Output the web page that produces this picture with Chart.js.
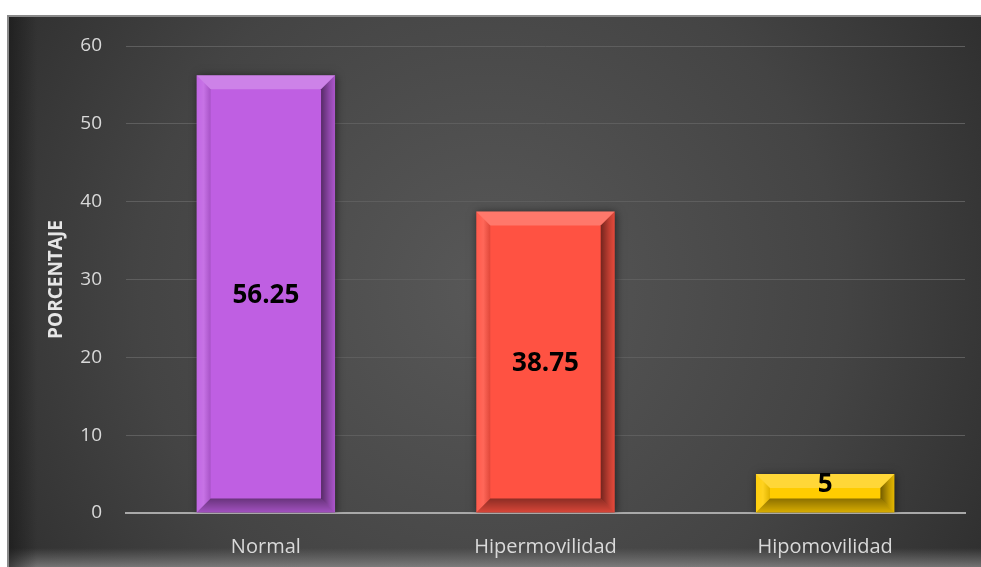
<!DOCTYPE html>
<html>
<head>
<meta charset="utf-8">
<script src="https://cdn.jsdelivr.net/npm/chart.js@4/dist/chart.umd.min.js"></script>
<style>
  html, body { margin: 0; padding: 0; background: #ffffff; }
  #wrap { width: 981px; height: 567px; position: relative; }
</style>
</head>
<body>
<div id="wrap"><canvas id="c" width="981" height="567"></canvas></div>
<script>
// Movilidad articular: porcentaje por categoría
const categories = ['Normal', 'Hipermovilidad', 'Hipomovilidad'];
const porcentajes = [56.25, 38.75, 5];
const barColors = ['#bf5fe2', '#ff5242', '#ffcc00'];
const yTicks = [0, 10, 20, 30, 40, 50, 60];
const axisTitle = 'PORCENTAJE';

// Dark panel with a soft radial highlight
const panelBackground = {
  id: 'panelBackground',
  beforeDraw(chart) {
    const ctx = chart.ctx;
    const W = chart.width, H = chart.height;
    ctx.save();
    ctx.fillStyle = '#ffffff';
    ctx.fillRect(0, 0, W, H);
    const px = 7, py = 15;
    const g = ctx.createRadialGradient(490, 290, 20, 490, 290, 620);
    g.addColorStop(0, '#575757');
    g.addColorStop(0.55, '#444444');
    g.addColorStop(1, '#2a2a2a');
    ctx.fillStyle = g;
    ctx.fillRect(px, py, W - px, H - py);
    // lighter band along the bottom edge
    const gb = ctx.createLinearGradient(0, 548, 0, H);
    gb.addColorStop(0, 'rgba(140,140,140,0)');
    gb.addColorStop(1, 'rgba(150,150,150,0.65)');
    ctx.fillStyle = gb;
    ctx.fillRect(px, 548, W - px, H - 548);
    // darker band down the left edge
    const gl = ctx.createLinearGradient(px, 0, px + 30, 0);
    gl.addColorStop(0, 'rgba(20,20,20,0.6)');
    gl.addColorStop(1, 'rgba(20,20,20,0)');
    ctx.fillStyle = gl;
    ctx.fillRect(px, py, 30, H - py);
    // thin frame lines
    ctx.fillStyle = '#8a8a8a';
    ctx.fillRect(px, py, W - px, 2);
    ctx.fillRect(px, py, 2, H - py);
    ctx.restore();
  }
};

// Vertical axis title, centred on the plot area
const axisTitlePlugin = {
  id: 'axisTitlePlugin',
  afterDraw(chart) {
    const ctx = chart.ctx;
    const a = chart.chartArea;
    ctx.save();
    ctx.translate(57, (a.top + a.bottom) / 2);
    ctx.rotate(-Math.PI / 2);
    ctx.fillStyle = '#e6e6e6';
    ctx.font = 'bold 19px "Open Sans", sans-serif';
    ctx.textAlign = 'center';
    ctx.textBaseline = 'middle';
    ctx.fillText(axisTitle, 0, 0);
    ctx.restore();
  }
};

// Drop shadow under each bar
const barShadow = {
  id: 'barShadow',
  beforeDatasetsDraw(chart) {
    const ctx = chart.ctx;
    ctx.save();
    ctx.shadowColor = 'rgba(0,0,0,0.55)';
    ctx.shadowBlur = 8;
    ctx.shadowOffsetX = 1;
    ctx.shadowOffsetY = 1;
  },
  afterDatasetsDraw(chart) {
    chart.ctx.restore();
  }
};

// Bevelled frame on each bar plus the centred value label
const bevelAndLabels = {
  id: 'bevelAndLabels',
  afterDatasetsDraw(chart) {
    const ctx = chart.ctx;
    const meta = chart.getDatasetMeta(0);
    const vals = chart.data.datasets[0].data;
    meta.data.forEach((bar, i) => {
      const p = bar.getProps(['x', 'y', 'base', 'width'], true);
      const l = p.x - p.width / 2, r = p.x + p.width / 2;
      const t = p.y, b = p.base;
      const bv = Math.min(14, (b - t) / 2.6);
      ctx.save();
      // top facet
      ctx.beginPath();
      ctx.moveTo(l, t); ctx.lineTo(r, t); ctx.lineTo(r - bv, t + bv); ctx.lineTo(l + bv, t + bv); ctx.closePath();
      ctx.fillStyle = 'rgba(255,255,255,0.22)';
      ctx.fill();
      // left facet
      ctx.beginPath();
      ctx.moveTo(l, t); ctx.lineTo(l + bv, t + bv); ctx.lineTo(l + bv, b - bv); ctx.lineTo(l, b); ctx.closePath();
      const gl = ctx.createLinearGradient(l, 0, l + bv, 0);
      gl.addColorStop(0, 'rgba(255,255,255,0.05)');
      gl.addColorStop(0.5, 'rgba(255,255,255,0.12)');
      gl.addColorStop(1, 'rgba(0,0,0,0.12)');
      ctx.fillStyle = gl;
      ctx.fill();
      // right facet
      ctx.beginPath();
      ctx.moveTo(r, t); ctx.lineTo(r, b); ctx.lineTo(r - bv, b - bv); ctx.lineTo(r - bv, t + bv); ctx.closePath();
      const gr = ctx.createLinearGradient(r - bv, 0, r, 0);
      gr.addColorStop(0, 'rgba(0,0,0,0.55)');
      gr.addColorStop(0.6, 'rgba(0,0,0,0.25)');
      gr.addColorStop(1, 'rgba(0,0,0,0.1)');
      ctx.fillStyle = gr;
      ctx.fill();
      // bottom facet
      ctx.beginPath();
      ctx.moveTo(l, b); ctx.lineTo(r, b); ctx.lineTo(r - bv, b - bv); ctx.lineTo(l + bv, b - bv); ctx.closePath();
      const gb = ctx.createLinearGradient(0, b - bv, 0, b);
      gb.addColorStop(0, 'rgba(0,0,0,0.45)');
      gb.addColorStop(1, 'rgba(0,0,0,0.15)');
      ctx.fillStyle = gb;
      ctx.fill();
      // value label
      ctx.fillStyle = '#000000';
      ctx.font = 'bold 26px "Open Sans", sans-serif';
      ctx.textAlign = 'center';
      ctx.textBaseline = 'middle';
      const yMid = (t + b) / 2 + (b - t < 60 ? -9 : 2);
      ctx.fillText(String(vals[i]), p.x, yMid);
      ctx.restore();
    });
  }
};

new Chart(document.getElementById('c'), {
  type: 'bar',
  data: {
    labels: categories,
    datasets: [{
      data: porcentajes,
      backgroundColor: barColors,
      borderWidth: 0,
      categoryPercentage: 1,
      barPercentage: 0.495
    }]
  },
  options: {
    responsive: false,
    animation: false,
    devicePixelRatio: 1,
    layout: { padding: { left: 0, top: 46, right: 16, bottom: 0 } },
    plugins: { legend: { display: false }, tooltip: { enabled: false } },
    scales: {
      x: {
        grid: { display: false },
        border: { color: '#a9a9a9', width: 2 },
        ticks: {
          color: '#d9d9d9',
          padding: 14,
          font: { family: '"Open Sans", sans-serif', size: 20 }
        },
        afterFit(s) { s.height = 54; }
      },
      y: {
        min: 0,
        max: 60,
        afterBuildTicks(s) { s.ticks = yTicks.map(v => ({ value: v })); },
        grid: {
          drawTicks: false,
          color: ctx => ctx.tick && ctx.tick.value === 0 ? 'rgba(0,0,0,0)' : '#5e5e5e',
          lineWidth: 1
        },
        border: { display: false },
        ticks: {
          color: '#d9d9d9',
          padding: 24,
          font: { family: '"Open Sans", sans-serif', size: 19 }
        },
        afterFit(s) { s.width = 126; }
      }
    }
  },
  plugins: [panelBackground, barShadow, bevelAndLabels, axisTitlePlugin]
});
</script>
</body>
</html>
